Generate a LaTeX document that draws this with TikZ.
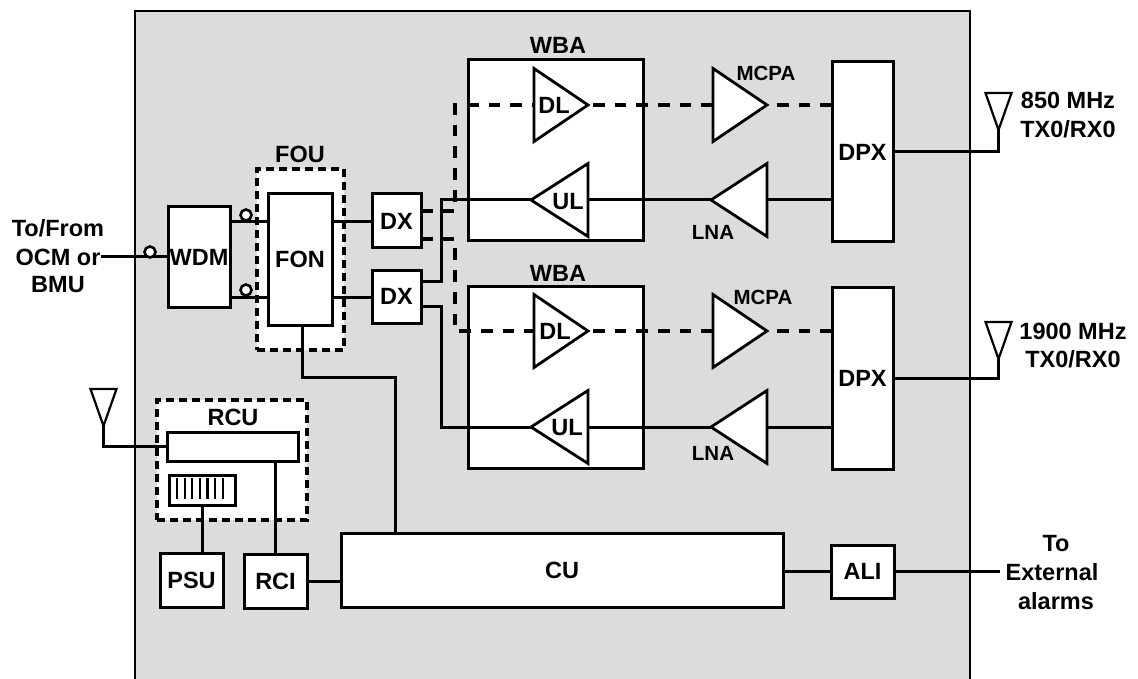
\documentclass[tikz,border=0pt]{standalone}
\usepackage{fontspec}
\setmainfont{Liberation Sans}
\usetikzlibrary{shapes.geometric}
\definecolor{shelf}{gray}{0.863}
\tikzset{
  txt/.style={font=\bfseries\fontsize{23.5}{24}\selectfont, inner sep=0pt},
  smalltxt/.style={font=\bfseries\fontsize{20.5}{21}\selectfont, inner sep=0pt},
  unit/.style={draw, fill=white, line width=3pt, outer sep=0pt, inner sep=0pt},
  fence/.style={draw, fill=white, line width=3.6pt, dash pattern=on 8pt off 5pt, outer sep=0pt},
  wire/.style={line width=3pt},
  downlink/.style={line width=4.6pt, dash pattern=on 11.7pt off 10pt},
  amp/.style={isosceles triangle, isosceles triangle stretches, draw, fill=white, line width=2.8pt,
    minimum width=73pt, minimum height=54pt, inner sep=0pt, outer sep=0pt},
  aerial/.style={isosceles triangle, isosceles triangle stretches, draw, fill=white, line width=2.2pt,
    shape border rotate=-90, minimum width=26pt, minimum height=37pt, inner sep=0pt, outer sep=0pt},
  port/.style={circle, draw, fill=white, line width=2.6pt, minimum size=11pt, inner sep=0pt}
}
\begin{document}
\begin{tikzpicture}[x=1pt, y=-1pt]
    \useasboundingbox (0,0) rectangle (1138,679);
    % shelf
    \fill[shelf] (135,11) rectangle (970,679);
    \draw[line width=2.2pt] (135,679) -- (135,11) -- (970,11) -- (970,679);
    % dashed enclosures
    \node[fence, minimum width=87pt, minimum height=181pt] (fou) at (300.5,259.5) {};
    \node[fence, minimum width=150pt, minimum height=120pt] (rcu) at (232,460) {};
    % blocks
    \node[unit, txt, minimum width=62pt, minimum height=100pt] (wdm) at (199,257) {WDM};
    \node[unit, txt, minimum width=64pt, minimum height=131pt] (fon) at (300,259.5) {FON};
    \node[unit, txt, minimum width=49pt, minimum height=54pt] (dxA) at (396.5,221) {DX};
    \node[unit, txt, minimum width=49pt, minimum height=53pt] (dxB) at (396.5,296.5) {DX};
    \node[unit, minimum width=175pt, minimum height=181pt] (wbaA) at (555.5,150.5) {};
    \node[unit, minimum width=175pt, minimum height=182pt] (wbaB) at (555.5,377) {};
    \node[unit, txt, minimum width=61pt, minimum height=180pt] (dpxA) at (862.5,152) {DPX};
    \node[unit, txt, minimum width=61pt, minimum height=182pt] (dpxB) at (862.5,378) {DPX};
    \node[unit, minimum width=131pt, minimum height=29pt] (bar) at (232.5,446.5) {};
    \node[unit, minimum width=66pt, minimum height=30pt] (keypad) at (202,490) {};
    \node[unit, txt, minimum width=63pt, minimum height=54pt] (psu) at (191.5,580) {PSU};
    \node[unit, txt, minimum width=63pt, minimum height=54pt] (rci) at (275.5,581) {RCI};
    \node[unit, txt, minimum width=442pt, minimum height=74pt] (cu) at (562,570) {CU};
    \node[unit, txt, minimum width=63pt, minimum height=53pt] (ali) at (862.5,571.5) {ALI};
    % outside labels
    \node[txt] (tofrom) at (58,228) {To/From};
    \node[txt] (ocm) at (58,257) {OCM or};
    \node[txt] (bmu) at (58,285) {BMU};
    \node[txt] (alarmto) at (1056,544) {To};
    \node[txt] (external) at (1052,572) {External};
    \node[txt] (alarms) at (1056,601) {alarms};
    \node[txt] (bandA) at (1068,100) {850 MHz};
    \node[txt] (modeA) at (1068,129) {TX0/RX0};
    \node[txt] (bandB) at (1073,331) {1900 MHz};
    \node[txt] (modeB) at (1073,359) {TX0/RX0};
    \node[txt] (founame) at (300,154) {FOU};
    \node[txt] (rcuname) at (233,417) {RCU};
    \node[txt] (wbanameA) at (558,45) {WBA};
    \node[txt] (wbanameB) at (558,273) {WBA};
    % routing points
    \coordinate (upper) at (249,222);
    \coordinate (lower) at (249,297);
    \coordinate (busA) at (441,200);
    \coordinate (busB) at (441,281);
    \coordinate (busC) at (441,306);
    \coordinate (busD) at (441,427);
    \coordinate (dashA) at (455,211);
    \coordinate (dashB) at (455,105);
    \coordinate (dashC) at (455,239);
    \coordinate (dashD) at (455,331);
    \coordinate (foncorner) at (302,377);
    \coordinate (cucorner) at (395,377);
    % amplifiers
    \node[amp, anchor=apex] (dlA) at (588,105) {};
    \node[amp, anchor=apex] (mcpaA) at (767,105) {};
    \node[amp, anchor=apex, minimum height=57pt, shape border rotate=180] (ulA) at (531,200) {};
    \node[amp, anchor=apex, minimum height=56pt, shape border rotate=180] (lnaA) at (711,200) {};
    \node[amp, anchor=apex] (dlB) at (588,331) {};
    \node[amp, anchor=apex] (mcpaB) at (767,331) {};
    \node[amp, anchor=apex, minimum height=57pt, shape border rotate=180] (ulB) at (531,427) {};
    \node[amp, anchor=apex, minimum height=56pt, shape border rotate=180] (lnaB) at (711,427) {};
    \node[txt] (dlnameA) at (554,105) {DL};
    \node[txt] (ulnameA) at (568,202) {UL};
    \node[txt] (dlnameB) at (555,331) {DL};
    \node[txt] (ulnameB) at (567,428) {UL};
    \node[smalltxt] (mcpanameA) at (766,73) {MCPA};
    \node[smalltxt] (lnanameA) at (713,232) {LNA};
    \node[smalltxt] (mcpanameB) at (763,297) {MCPA};
    \node[smalltxt] (lnanameB) at (713,453) {LNA};
    % aerials
    \node[aerial, anchor=apex] (antA) at (998.5,130) {};
    \node[aerial, anchor=apex] (antB) at (998.5,359) {};
    \node[aerial, anchor=apex] (antC) at (103.5,426) {};
    % solid connections
    \draw[wire] (ocm.east |- wdm.west) -- (wdm.west);
    \draw[wire] (wdm.east |- upper) -- (fon.west |- upper);
    \draw[wire] (wdm.east |- lower) -- (fon.west |- lower);
    \draw[wire] (fon.east |- upper) -- (dxA.west |- upper);
    \draw[wire] (fon.east |- lower) -- (dxB.west |- lower);
    \draw[wire] (dpxA.west |- ulA.lower side) -- (lnaA.lower side);
    \draw[wire] (lnaA.apex) -- (ulA.lower side);
    \draw[wire] (ulA.apex) -- (busA) -- (busB) -- (dxB.east |- busB);
    \draw[wire] (dxB.east |- busC) -- (busC) -- (busD) -- (ulB.apex);
    \draw[wire] (dpxB.west |- ulB.lower side) -- (lnaB.lower side);
    \draw[wire] (lnaB.apex) -- (ulB.lower side);
    \draw[wire] (dpxA.east) -- (antA.apex |- dpxA.east) -- (antA.apex);
    \draw[wire] (dpxB.east) -- (antB.apex |- dpxB.east) -- (antB.apex);
    \draw[wire] (bar.west) -- (antC.apex |- bar.west) -- (antC.apex);
    \draw[wire] (foncorner |- fon.south) -- (foncorner) -- (cucorner) -- (cucorner |- cu.north);
    \draw[wire] (keypad.south) -- (keypad.south |- psu.north);
    \draw[wire] (rci.north) -- (rci.north |- bar.south);
    \draw[wire] (rci.east) -- (cu.west |- rci.east);
    \draw[wire] (cu.east |- ali.west) -- (ali.west);
    \draw[wire, shorten >=5pt] (ali.east) -- (ali.east -| external.west);
    % dashed downlink paths
    \draw[downlink] (dxA.east |- dashA) -- (dashA) -- (dashB) -- (dlA.lower side);
    \draw[downlink] (mcpaA.lower side) -- (dlA.apex);
    \draw[downlink] (dpxA.west |- mcpaA.apex) -- (mcpaA.apex);
    \draw[downlink] (dxA.east |- dashC) -- (dashC) -- (dashD) -- (dlB.lower side);
    \draw[downlink] (mcpaB.lower side) -- (dlB.apex);
    \draw[downlink] (dpxB.west |- mcpaB.apex) -- (mcpaB.apex);
    % ports
    \node[port] (portA) at (150,252) {};
    \node[port] (portB) at (246,215) {};
    \node[port] (portC) at (246,290) {};
    % keypad ticks
    \foreach \tick in {177,184.6,192.2,199.8,207.4,215,222.6}
        \draw[line width=2.2pt] (\tick,478) -- (\tick,499);
\end{tikzpicture}
\end{document}
